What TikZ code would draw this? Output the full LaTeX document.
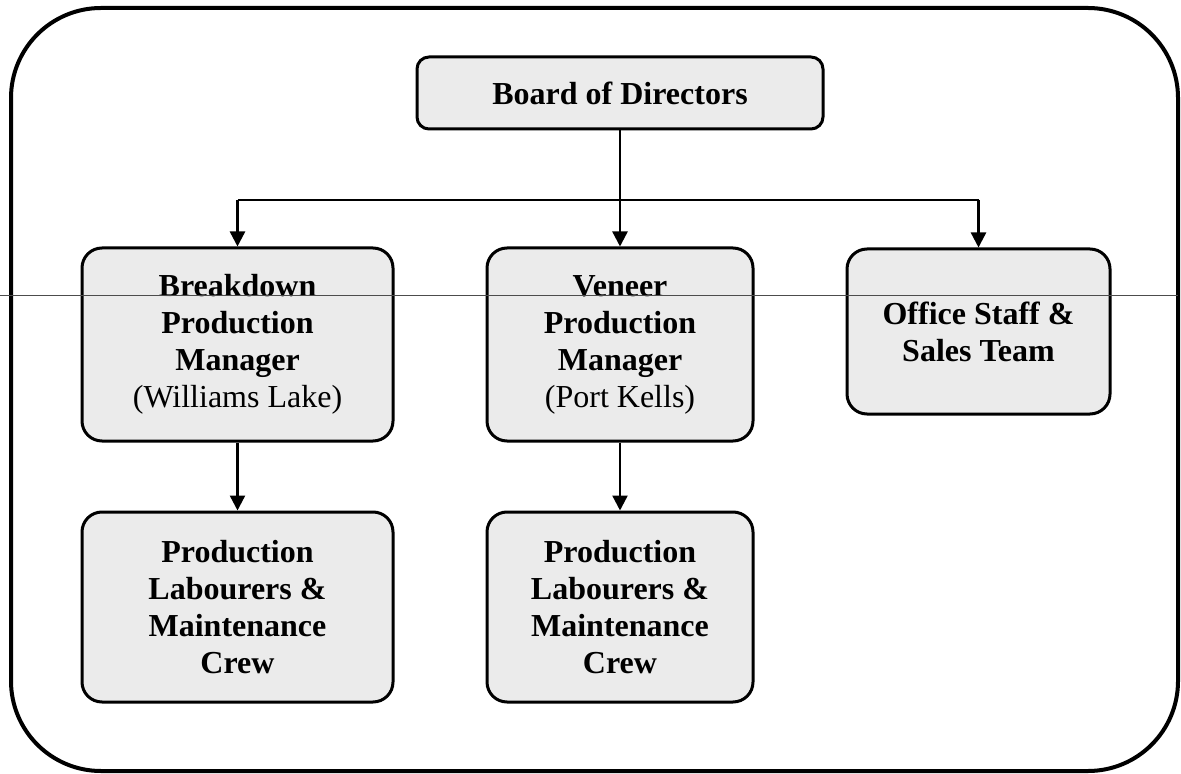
\documentclass[tikz,border=0pt]{standalone}
\usepackage{fontspec}
\setmainfont{Liberation Serif}
\usetikzlibrary{arrows.meta}
\tikzset{
  box/.style={draw=black, line width=1.5pt, rounded corners=10pt, fill=black!8,
    align=center, inner sep=0pt,
    font=\fontsize{16}{18.5}\selectfont\bfseries},
  link/.style={draw=black, line width=1.2pt},
  arr/.style={link, -{Triangle[width=7.5pt,length=7.5pt]}},
  outer/.style={draw=black, line width=2pt, rounded corners=45pt},
  scanline/.style={draw=black!70, line width=0.5pt}
}
\begin{document}
\begin{tikzpicture}[x=0.5pt,y=-0.5pt]
\useasboundingbox (0,0) rectangle (1181,774);
\draw[outer] (11,8) rectangle (1178,771);
\node[box, rounded corners=6pt, minimum width=203pt, minimum height=36pt] (board) at (620,93) {Board of Directors};
\node[box, minimum width=155.5pt, minimum height=96.5pt] (bdm) at (237.5,344.5)
  {Breakdown\\Production\\Manager\\\mdseries(Williams Lake)};
\node[box, minimum width=133pt, minimum height=96.5pt] (vpm) at (620,344.5)
  {Veneer\\Production\\Manager\\\mdseries(Port Kells)};
\node[box, minimum width=131.5pt, minimum height=82.5pt] (off) at (978.5,331.5)
  {Office Staff \&\\Sales Team};
\node[box, minimum width=155.5pt, minimum height=95pt] (crewl) at (237.5,607)
  {Production\\Labourers \&\\Maintenance\\Crew};
\node[box, minimum width=133pt, minimum height=95pt] (crewm) at (620,607)
  {Production\\Labourers \&\\Maintenance\\Crew};
\coordinate (hbar) at (0,200);
\draw[arr] (board.south) -- (vpm.north);
\draw[link] (bdm.north |- hbar) -- (off.north |- hbar);
\draw[arr] (bdm.north |- hbar) -- (bdm.north);
\draw[arr] (off.north |- hbar) -- (off.north);
\draw[arr] (bdm.south) -- (crewl.north);
\draw[arr] (vpm.south) -- (crewm.north);
\coordinate (scanA) at (0,296);
\coordinate (scanB) at (1178,296);
\draw[scanline] (scanA) -- (scanB);
\end{tikzpicture}
\end{document}
